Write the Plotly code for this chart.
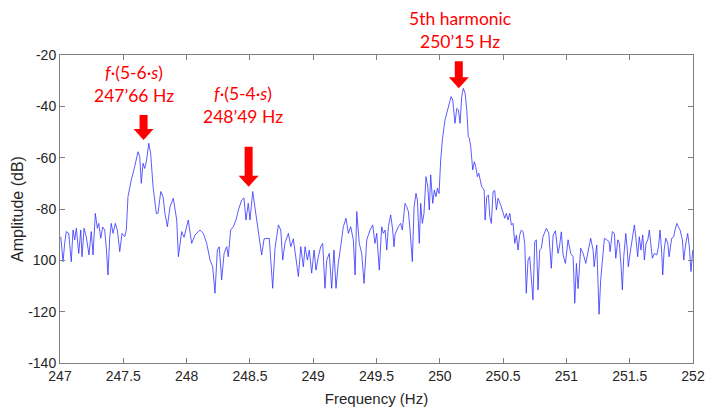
import plotly.graph_objects as go

# Spectrum around the 5th harmonic: frequency (Hz) and amplitude (dB)
freq_hz = [
    247.006, 247.024, 247.037, 247.050, 247.069, 247.089, 247.103, 247.116, 247.129, 247.148,
    247.164, 247.174, 247.190, 247.208, 247.229, 247.247, 247.261, 247.279, 247.295, 247.306,
    247.322, 247.337, 247.353, 247.366, 247.379, 247.393, 247.405, 247.419, 247.437, 247.453,
    247.472, 247.490, 247.511, 247.524, 247.537, 247.563, 247.590, 247.616, 247.630, 247.642,
    247.656, 247.669, 247.682, 247.701, 247.716, 247.735, 247.761, 247.774, 247.796, 247.814,
    247.829, 247.848, 247.869, 247.895, 247.922, 247.935, 247.961, 247.980, 248.013, 248.040,
    248.067, 248.106, 248.132, 248.159, 248.185, 248.206, 248.224, 248.243, 248.258, 248.277,
    248.296, 248.317, 248.329, 248.348, 248.369, 248.390, 248.409, 248.435, 248.453, 248.469,
    248.487, 248.501, 248.522, 248.540, 248.559, 248.574, 248.593, 248.612, 248.633, 248.653,
    248.680, 248.698, 248.725, 248.744, 248.759, 248.778, 248.804, 248.823, 248.843, 248.864,
    248.883, 248.902, 248.922, 248.936, 248.954, 248.969, 248.988, 249.007, 249.022, 249.041,
    249.059, 249.075, 249.093, 249.107, 249.127, 249.146, 249.164, 249.180, 249.198, 249.217,
    249.238, 249.259, 249.278, 249.296, 249.317, 249.331, 249.344, 249.364, 249.383, 249.402,
    249.423, 249.449, 249.470, 249.488, 249.502, 249.522, 249.541, 249.554, 249.568, 249.581,
    249.594, 249.612, 249.628, 249.638, 249.646, 249.672, 249.691, 249.704, 249.725, 249.739,
    249.752, 249.765, 249.783, 249.797, 249.812, 249.823, 249.838, 249.849, 249.862, 249.875,
    249.891, 249.905, 249.917, 249.928, 249.944, 249.957, 249.970, 249.981, 249.994, 250.007,
    250.020, 250.041, 250.067, 250.089, 250.102, 250.120, 250.134, 250.147, 250.160, 250.173,
    250.186, 250.200, 250.213, 250.225, 250.233, 250.244, 250.260, 250.273, 250.284, 250.297,
    250.308, 250.318, 250.331, 250.350, 250.358, 250.371, 250.384, 250.395, 250.407, 250.421,
    250.434, 250.447, 250.460, 250.481, 250.500, 250.513, 250.526, 250.539, 250.553, 250.565,
    250.579, 250.592, 250.605, 250.618, 250.631, 250.644, 250.658, 250.671, 250.683, 250.697,
    250.710, 250.723, 250.736, 250.750, 250.762, 250.776, 250.789, 250.802, 250.815, 250.842,
    250.861, 250.881, 250.895, 250.913, 250.934, 250.947, 250.960, 250.974, 250.992, 251.013,
    251.034, 251.053, 251.066, 251.079, 251.092, 251.113, 251.132, 251.153, 251.171, 251.192,
    251.211, 251.219, 251.240, 251.248, 251.258, 251.271, 251.284, 251.300, 251.319, 251.337,
    251.345, 251.363, 251.379, 251.390, 251.406, 251.418, 251.432, 251.442, 251.453, 251.469,
    251.479, 251.489, 251.503, 251.516, 251.537, 251.548, 251.563, 251.576, 251.589, 251.603,
    251.616, 251.629, 251.643, 251.655, 251.669, 251.679, 251.695, 251.714, 251.727, 251.740,
    251.753, 251.761, 251.772, 251.785, 251.801, 251.811, 251.832, 251.848, 251.858, 251.872,
    251.884, 251.898, 251.916, 251.927, 251.943, 251.958, 251.971, 251.984, 251.998,
]

amp_db = [
    -90.8, -100.5, -93.4, -88.8, -89.5, -100.5, -88.2, -92.0, -87.5, -97.3,
    -88.2, -98.6, -87.5, -91.0, -97.9, -88.8, -97.9, -81.7, -87.5, -85.6,
    -91.4, -87.0, -88.2, -95.3, -105.7, -91.0, -85.6, -89.5, -85.6, -88.2,
    -96.6, -89.5, -90.8, -88.2, -75.2, -68.7, -63.5, -57.7, -59.6, -70.0,
    -62.2, -64.2, -61.6, -54.4, -58.3, -71.3, -81.7, -81.7, -73.2, -75.2,
    -81.7, -86.9, -79.1, -75.8, -84.3, -98.6, -88.8, -91.0, -84.3, -93.4,
    -90.1, -88.2, -89.5, -93.4, -99.9, -102.5, -112.8, -96.0, -94.7, -107.6,
    -97.3, -94.7, -98.6, -88.2, -86.9, -84.3, -80.4, -76.5, -75.7, -84.3,
    -77.8, -84.3, -73.2, -79.1, -86.9, -90.0, -97.9, -91.6, -91.6, -91.4,
    -110.9, -95.5, -86.2, -88.2, -99.9, -93.1, -89.5, -94.7, -91.6, -98.6,
    -106.3, -94.7, -102.5, -94.7, -99.9, -96.0, -105.0, -96.0, -103.8, -98.6,
    -94.7, -93.4, -110.9, -99.9, -97.3, -110.9, -96.0, -110.9, -101.2, -94.7,
    -86.9, -83.6, -89.5, -86.9, -92.0, -105.7, -81.0, -93.4, -97.3, -109.0,
    -92.0, -88.2, -86.2, -93.4, -89.5, -103.8, -86.9, -89.5, -88.2, -96.0,
    -86.9, -82.3, -88.2, -94.7, -90.0, -86.9, -85.6, -88.2, -77.8, -79.1,
    -81.0, -88.2, -100.5, -79.1, -73.9, -76.5, -93.4, -77.8, -85.6, -81.7,
    -67.4, -71.3, -80.4, -66.7, -77.8, -72.6, -75.2, -71.9, -74.0, -60.9,
    -53.1, -45.3, -40.1, -36.2, -37.5, -46.6, -40.8, -41.4, -46.6, -36.2,
    -33.0, -34.9, -41.4, -51.8, -52.4, -55.6, -64.8, -61.6, -63.5, -67.4,
    -66.1, -68.7, -71.3, -72.6, -84.3, -75.2, -74.5, -83.0, -85.6, -73.2,
    -72.8, -80.4, -75.8, -78.4, -81.0, -83.6, -81.7, -84.3, -81.7, -86.2,
    -85.6, -93.4, -90.2, -96.0, -90.2, -88.2, -88.9, -93.4, -112.8, -99.9,
    -98.6, -106.3, -115.4, -92.7, -92.0, -111.5, -96.0, -95.3, -90.8, -87.5,
    -89.5, -103.1, -90.2, -88.5, -97.3, -94.0, -88.9, -97.9, -101.2, -92.0,
    -97.3, -98.6, -116.7, -101.2, -111.0, -95.3, -97.3, -101.2, -96.0, -91.4,
    -96.0, -102.5, -94.0, -105.0, -121.0, -107.6, -98.6, -91.4, -92.0, -92.7,
    -96.6, -88.8, -89.5, -99.2, -92.0, -93.4, -102.5, -111.5, -98.6, -89.5,
    -94.7, -102.5, -97.3, -93.4, -86.2, -90.8, -98.6, -90.8, -96.0, -90.1,
    -99.9, -93.4, -92.0, -88.2, -95.3, -99.2, -97.3, -97.9, -94.7, -88.2,
    -97.3, -105.7, -96.0, -91.4, -93.4, -98.6, -91.4, -90.8, -88.2, -85.6,
    -86.9, -88.2, -92.0, -99.9, -93.4, -89.5, -94.7, -104.4, -96.0,
]

# Axis ticks
y_tick_vals = [-140, -120, -100, -80, -60, -40, -20]
y_tick_text = ["-140", "-120", "100", "-80", "-60", "-40", "-20"]
x_tick_vals = [247, 247.5, 248, 248.5, 249, 249.5, 250, 250.5, 251, 251.5, 252]

# Marked components: frequency (Hz), arrow tip (dB), label lines
marker_freq = [247.66, 248.49, 250.15]
marker_tip_db = [-53.1, -71.3, -33.0]
marker_labels = [
    "<i>f</i>·(5-6·<i>s</i>)<br>247’66 Hz",
    "<i>f</i>·(5-4·<i>s</i>)<br>248’49 Hz",
    "5th harmonic<br>250’15 Hz",
]
label_freq = [247.585, 248.445, 250.156]
label_y_paper = [0.906, 0.838, 1.080]
arrow_shaft_px = [25, 40, 27]

RED = "#FF0000"
AXIS_GREY = "#7f7f7f"
TEXT_DARK = "#262626"
SANS = "Liberation Sans, Arial, sans-serif"

fig = go.Figure()
fig.add_trace(go.Scatter(
    x=freq_hz, y=amp_db, mode="lines",
    line=dict(color="rgb(50,50,255)", width=0.8),
    showlegend=False, hoverinfo="x+y",
))


def down_arrow(freq, tip, shaft, head_len=11, head_half=10, shaft_half=4):
    path = (f"M0,0 L{-head_half},{head_len} L{-shaft_half},{head_len} "
            f"L{-shaft_half},{shaft} L{shaft_half},{shaft} "
            f"L{shaft_half},{head_len} L{head_half},{head_len} Z")
    return dict(type="path", xref="x", yref="y",
                xsizemode="pixel", ysizemode="pixel",
                xanchor=freq, yanchor=tip, path=path,
                fillcolor=RED, line=dict(width=0), layer="above")


for f, tip, shaft in zip(marker_freq, marker_tip_db, arrow_shaft_px):
    fig.add_shape(down_arrow(f, tip, shaft))

for text, fx, fy in zip(marker_labels, label_freq, label_y_paper):
    fig.add_annotation(
        x=fx, y=fy, xref="x", yref="paper", text=text, showarrow=False,
        xanchor="center", yanchor="middle", align="center",
        font=dict(family="Lato, 'Open Sans', sans-serif", size=17.5, color=RED),
    )

axis_common = dict(
    showline=True, linecolor=AXIS_GREY, linewidth=1, mirror="ticks",
    ticks="inside", ticklen=5, tickcolor=AXIS_GREY, tickwidth=1,
    showgrid=False, zeroline=False,
    tickfont=dict(family=SANS, size=14, color=TEXT_DARK),
)

fig.update_xaxes(
    range=[247, 252], tickvals=x_tick_vals, **axis_common,
    title=dict(text="Frequency (Hz)", standoff=10,
               font=dict(family=SANS, size=15, color=TEXT_DARK)),
)
fig.update_yaxes(
    range=[-140, -20], tickvals=y_tick_vals, ticktext=y_tick_text, **axis_common,
    title=dict(text="Amplitude (dB)", standoff=0,
               font=dict(family=SANS, size=16, color=TEXT_DARK)),
)

fig.update_layout(
    width=708, height=414,
    margin=dict(l=60, r=15, t=55, b=51, autoexpand=False),
    plot_bgcolor="white", paper_bgcolor="white",
)

fig.write_html("out.html")
